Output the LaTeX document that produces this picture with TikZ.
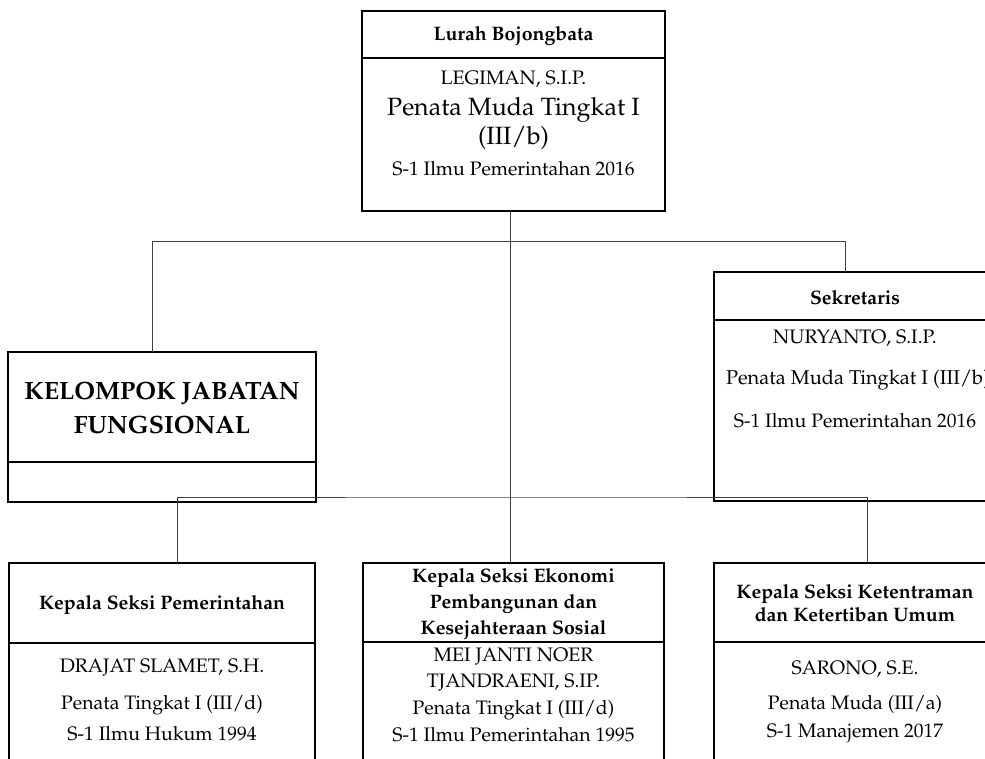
\documentclass[tikz,border=0pt]{standalone}
\usepackage[T1]{fontenc}
\usepackage{mathpazo}
\begin{document}
\begin{tikzpicture}[x=1pt,y=-1pt,
  boxframe/.style={draw=black,line width=1.7pt,inner sep=0pt},
  conn/.style={draw=black!75,line width=1pt},
  hd/.style={font=\fontsize{19.5}{23}\selectfont\bfseries,align=center,inner sep=0pt},
  bd/.style={font=\fontsize{19.5}{23}\selectfont,anchor=base,inner sep=0pt},
  big/.style={font=\fontsize{25}{29}\selectfont,anchor=base,inner sep=0pt},
  kjf/.style={font=\fontsize{25}{34}\selectfont\bfseries,align=center,inner sep=0pt}]
\useasboundingbox (0,0) rectangle (985,758);
\clip (0,0) rectangle (985,758);
% boxes
\path[boxframe] (362,11) rectangle (665,58);
\path[boxframe] (362,58) rectangle (665,211);
\coordinate (topbot) at (510,211);
\path[boxframe] (8,352) rectangle (316,462);
\path[boxframe] (8,462) rectangle (316,502);
\path[boxframe] (714,272) rectangle (1000,320);
\path[boxframe] (714,320) rectangle (1000,501);
\path[boxframe] (9,563) rectangle (315,643);
\path[boxframe] (9,643) rectangle (315,800);
\path[boxframe] (363,563) rectangle (664,642);
\path[boxframe] (363,642) rectangle (664,800);
\path[boxframe] (714,563) rectangle (1000,642);
\path[boxframe] (714,642) rectangle (1000,800);
% connector coordinates
\coordinate (j1) at (510,241.5);
\coordinate (kjftop) at (152,352);
\coordinate (sektop) at (845,272);
\coordinate (j2) at (510,497);
\coordinate (bltop) at (177,563);
\coordinate (bmtop) at (510,563);
\coordinate (brtop) at (867,563);
\draw[conn] (topbot) -- (j2);
\draw[conn] (kjftop) |- (j1) -| (sektop);
\draw[conn] (bltop) |- (j2) -| (brtop);
\draw[conn] (j2) -- (bmtop);
% top box text
\node[hd] (t0) at (513.5,36) {Lurah Bojongbata};
\node[bd] (t1) at (513.5,84) {LEGIMAN, S.I.P.};
\node[big] (t2) at (513.5,115) {Penata Muda Tingkat I};
\node[big] (t3) at (513.5,144) {(III/b)};
\node[bd] (t4) at (513.5,175) {S-1 Ilmu Pemerintahan 2016};
% KJF
\node[kjf] (k0) at (162,408) {KELOMPOK JABATAN\\FUNGSIONAL};
% Sekretaris
\node[hd] (s0) at (855,298) {Sekretaris};
\node[bd] (s1) at (855,343) {NURYANTO, S.I.P.};
\node[bd,font=\fontsize{20}{23}\selectfont] (s2) at (858,384) {Penata Muda Tingkat I (III/b)};
\node[bd] (s3) at (855,427) {S-1 Ilmu Pemerintahan 2016};
% bottom left
\node[hd] (l0) at (162,605) {Kepala Seksi Pemerintahan};
\node[bd] (l1) at (162,672) {DRAJAT SLAMET, S.H.};
\node[bd] (l2) at (162,709) {Penata Tingkat I (III/d)};
\node[bd] (l3) at (162,740) {S-1 Ilmu Hukum 1994};
% bottom middle
\node[hd,font=\fontsize{19.5}{26}\selectfont\bfseries] (m0) at (513.5,604) {Kepala Seksi Ekonomi\\Pembangunan dan\\Kesejahteraan Sosial};
\node[bd] (m1) at (513.5,661) {MEI JANTI NOER};
\node[bd] (m2) at (513.5,687) {TJANDRAENI, S.IP.};
\node[bd] (m3) at (513.5,714) {Penata Tingkat I (III/d)};
\node[bd] (m4) at (513.5,741) {S-1 Ilmu Pemerintahan 1995};
% bottom right
\node[hd,font=\fontsize{19.5}{23}\selectfont\bfseries] (r0) at (855,603) {Kepala Seksi Ketentraman\\dan Ketertiban Umum};
\node[bd] (r1) at (855,674) {SARONO, S.E.};
\node[bd] (r2) at (855,709) {Penata Muda (III/a)};
\node[bd] (r3) at (855,737) {S-1 Manajemen 2017};
\end{tikzpicture}
\end{document}
